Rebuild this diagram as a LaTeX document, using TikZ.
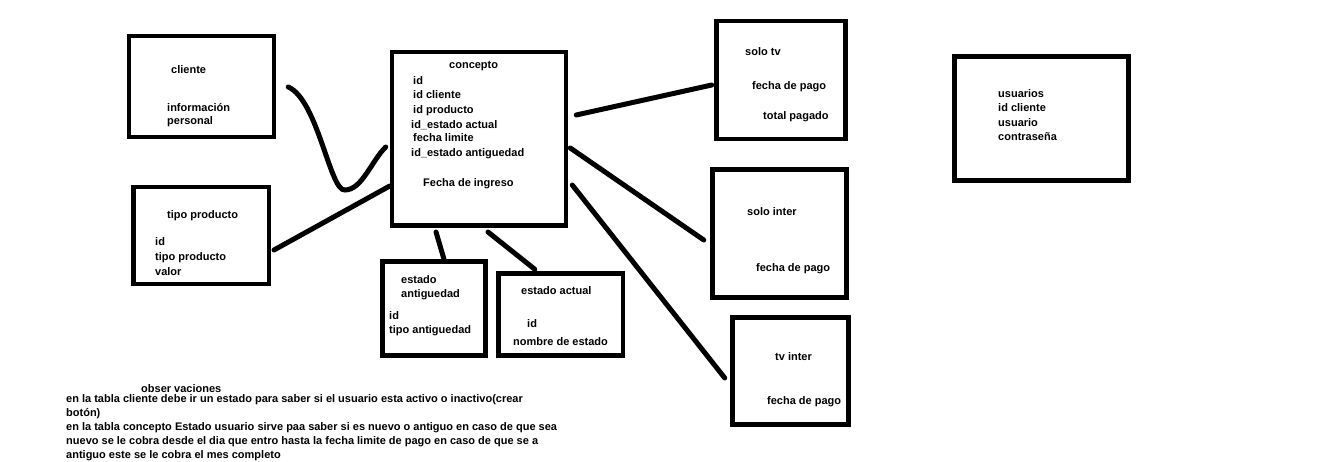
\documentclass[tikz,border=0pt]{standalone}
\usepackage{fontspec}
\setmainfont{Liberation Sans}
\usetikzlibrary{positioning}

\begin{document}
\begin{tikzpicture}[x=1pt,y=-1pt,
    tabla/.style={draw,line width=4.5pt,inner sep=0pt},
    txt/.style={anchor=base west,inner sep=0pt,font=\bfseries\fontsize{11}{14}\selectfont},
    enlace/.style={line width=5pt,line cap=round}]
    \useasboundingbox (0,0) rectangle (1331,462);

    % tablas
    \node[tabla,minimum width=145pt,minimum height=101pt]   (cliente)   at (201.5,86.5)  {};
    \node[tabla,minimum width=135.5pt,minimum height=97pt]  (tipoprod)  at (201,235.5)   {};
    \node[tabla,minimum width=174pt,minimum height=173.5pt] (concepto)  at (479,139)     {};
    \node[tabla,minimum width=103pt,minimum height=94pt]    (estantig)  at (434,308.5)   {};
    \node[tabla,minimum width=124.5pt,minimum height=82pt]  (estactual) at (560.75,314.5) {};
    \node[tabla,minimum width=129pt,minimum height=118pt]   (solotv)    at (781,80)      {};
    \node[tabla,minimum width=134pt,minimum height=128pt]   (solointer) at (779.5,233.5) {};
    \node[tabla,minimum width=116pt,minimum height=107pt]   (tvinter)   at (790.5,371)   {};
    \node[tabla,minimum width=174pt,minimum height=124pt]   (usuarios)  at (1041.5,118.5) {};

    % cliente
    \node[txt] (cl1) at (171,74)  {cliente};
    \node[txt] (cl2) at (167,112) {información};
    \node[txt] (cl3) at (167,125) {personal};
    % tipo producto
    \node[txt] (tp1) at (167,219) {tipo producto};
    \node[txt] (tp2) at (155,246) {id};
    \node[txt] (tp3) at (155,261) {tipo producto};
    \node[txt] (tp4) at (155,276) {valor};
    % concepto
    \node[txt] (co1) at (449,69)  {concepto};
    \node[txt] (co2) at (413,85)  {id};
    \node[txt] (co3) at (413,99)  {id cliente};
    \node[txt] (co4) at (413,114) {id producto};
    \node[txt] (co5) at (411,129) {id\_estado actual};
    \node[txt] (co6) at (413,142) {fecha limite};
    \node[txt] (co7) at (411,157) {id\_estado antiguedad};
    \node[txt] (co8) at (423,187) {Fecha de ingreso};
    % estado antiguedad
    \node[txt] (ea1) at (401,284) {estado};
    \node[txt] (ea2) at (401,298) {antiguedad};
    \node[txt] (ea3) at (389,320) {id};
    \node[txt] (ea4) at (389,334) {tipo antiguedad};
    % estado actual
    \node[txt] (ec1) at (521,295) {estado actual};
    \node[txt] (ec2) at (527,327) {id};
    \node[txt] (ec3) at (513,345) {nombre de estado};
    % solo tv
    \node[txt] (st1) at (745,56)  {solo tv};
    \node[txt] (st2) at (752,90)  {fecha de pago};
    \node[txt] (st3) at (763,120) {total pagado};
    % solo inter
    \node[txt] (si1) at (747,216) {solo inter};
    \node[txt] (si2) at (756,272) {fecha de pago};
    % tv inter
    \node[txt] (ti1) at (775,360) {tv inter};
    \node[txt] (ti2) at (767,404) {fecha de pago};
    % usuarios
    \node[txt] (us1) at (998,98)  {usuarios};
    \node[txt] (us2) at (998,112) {id cliente};
    \node[txt] (us3) at (998,127) {usuario};
    \node[txt] (us4) at (998,141) {contraseña};

    % observaciones
    \node[txt] (obs) at (141,392) {obser vaciones};
    \node[txt,align=left] (nota) at (66,458) {en la tabla cliente debe ir un estado para saber si el usuario esta activo o inactivo(crear\\
      botón)\\
      en la tabla concepto Estado usuario sirve paa saber si es nuevo o antiguo en caso de que sea\\
      nuevo se le cobra desde el dia que entro hasta la fecha limite de pago en caso de que se a\\
      antiguo este se le cobra el mes completo};

    % enlaces
    \draw[enlace] ([shift={(12,0.5)}]cliente.east)
      .. controls (318,100) and (330,192) .. (345,190)
      .. controls (362,190) and (372,160) .. ([shift={(-4,8)}]concepto.west);
    \draw[enlace] ([shift={(3,14.5)}]tipoprod.east) -- ([shift={(0,47)}]concepto.west);
    \draw[enlace] ([shift={(8,-24)}]concepto.east)  -- ([shift={(-2.5,5)}]solotv.west);
    \draw[enlace] ([shift={(2,9)}]concepto.east)    -- ([shift={(-6.5,6.5)}]solointer.west);
    \draw[enlace] ([shift={(4,46)}]concepto.east)   -- ([shift={(-5.5,7)}]tvinter.west);
    \draw[enlace] ([shift={(-43,4)}]concepto.south) -- ([shift={(10,0)}]estantig.north);
    \draw[enlace] ([shift={(9,4)}]concepto.south)   -- ([shift={(-26,-2)}]estactual.north);
  \end{tikzpicture}
\end{document}
